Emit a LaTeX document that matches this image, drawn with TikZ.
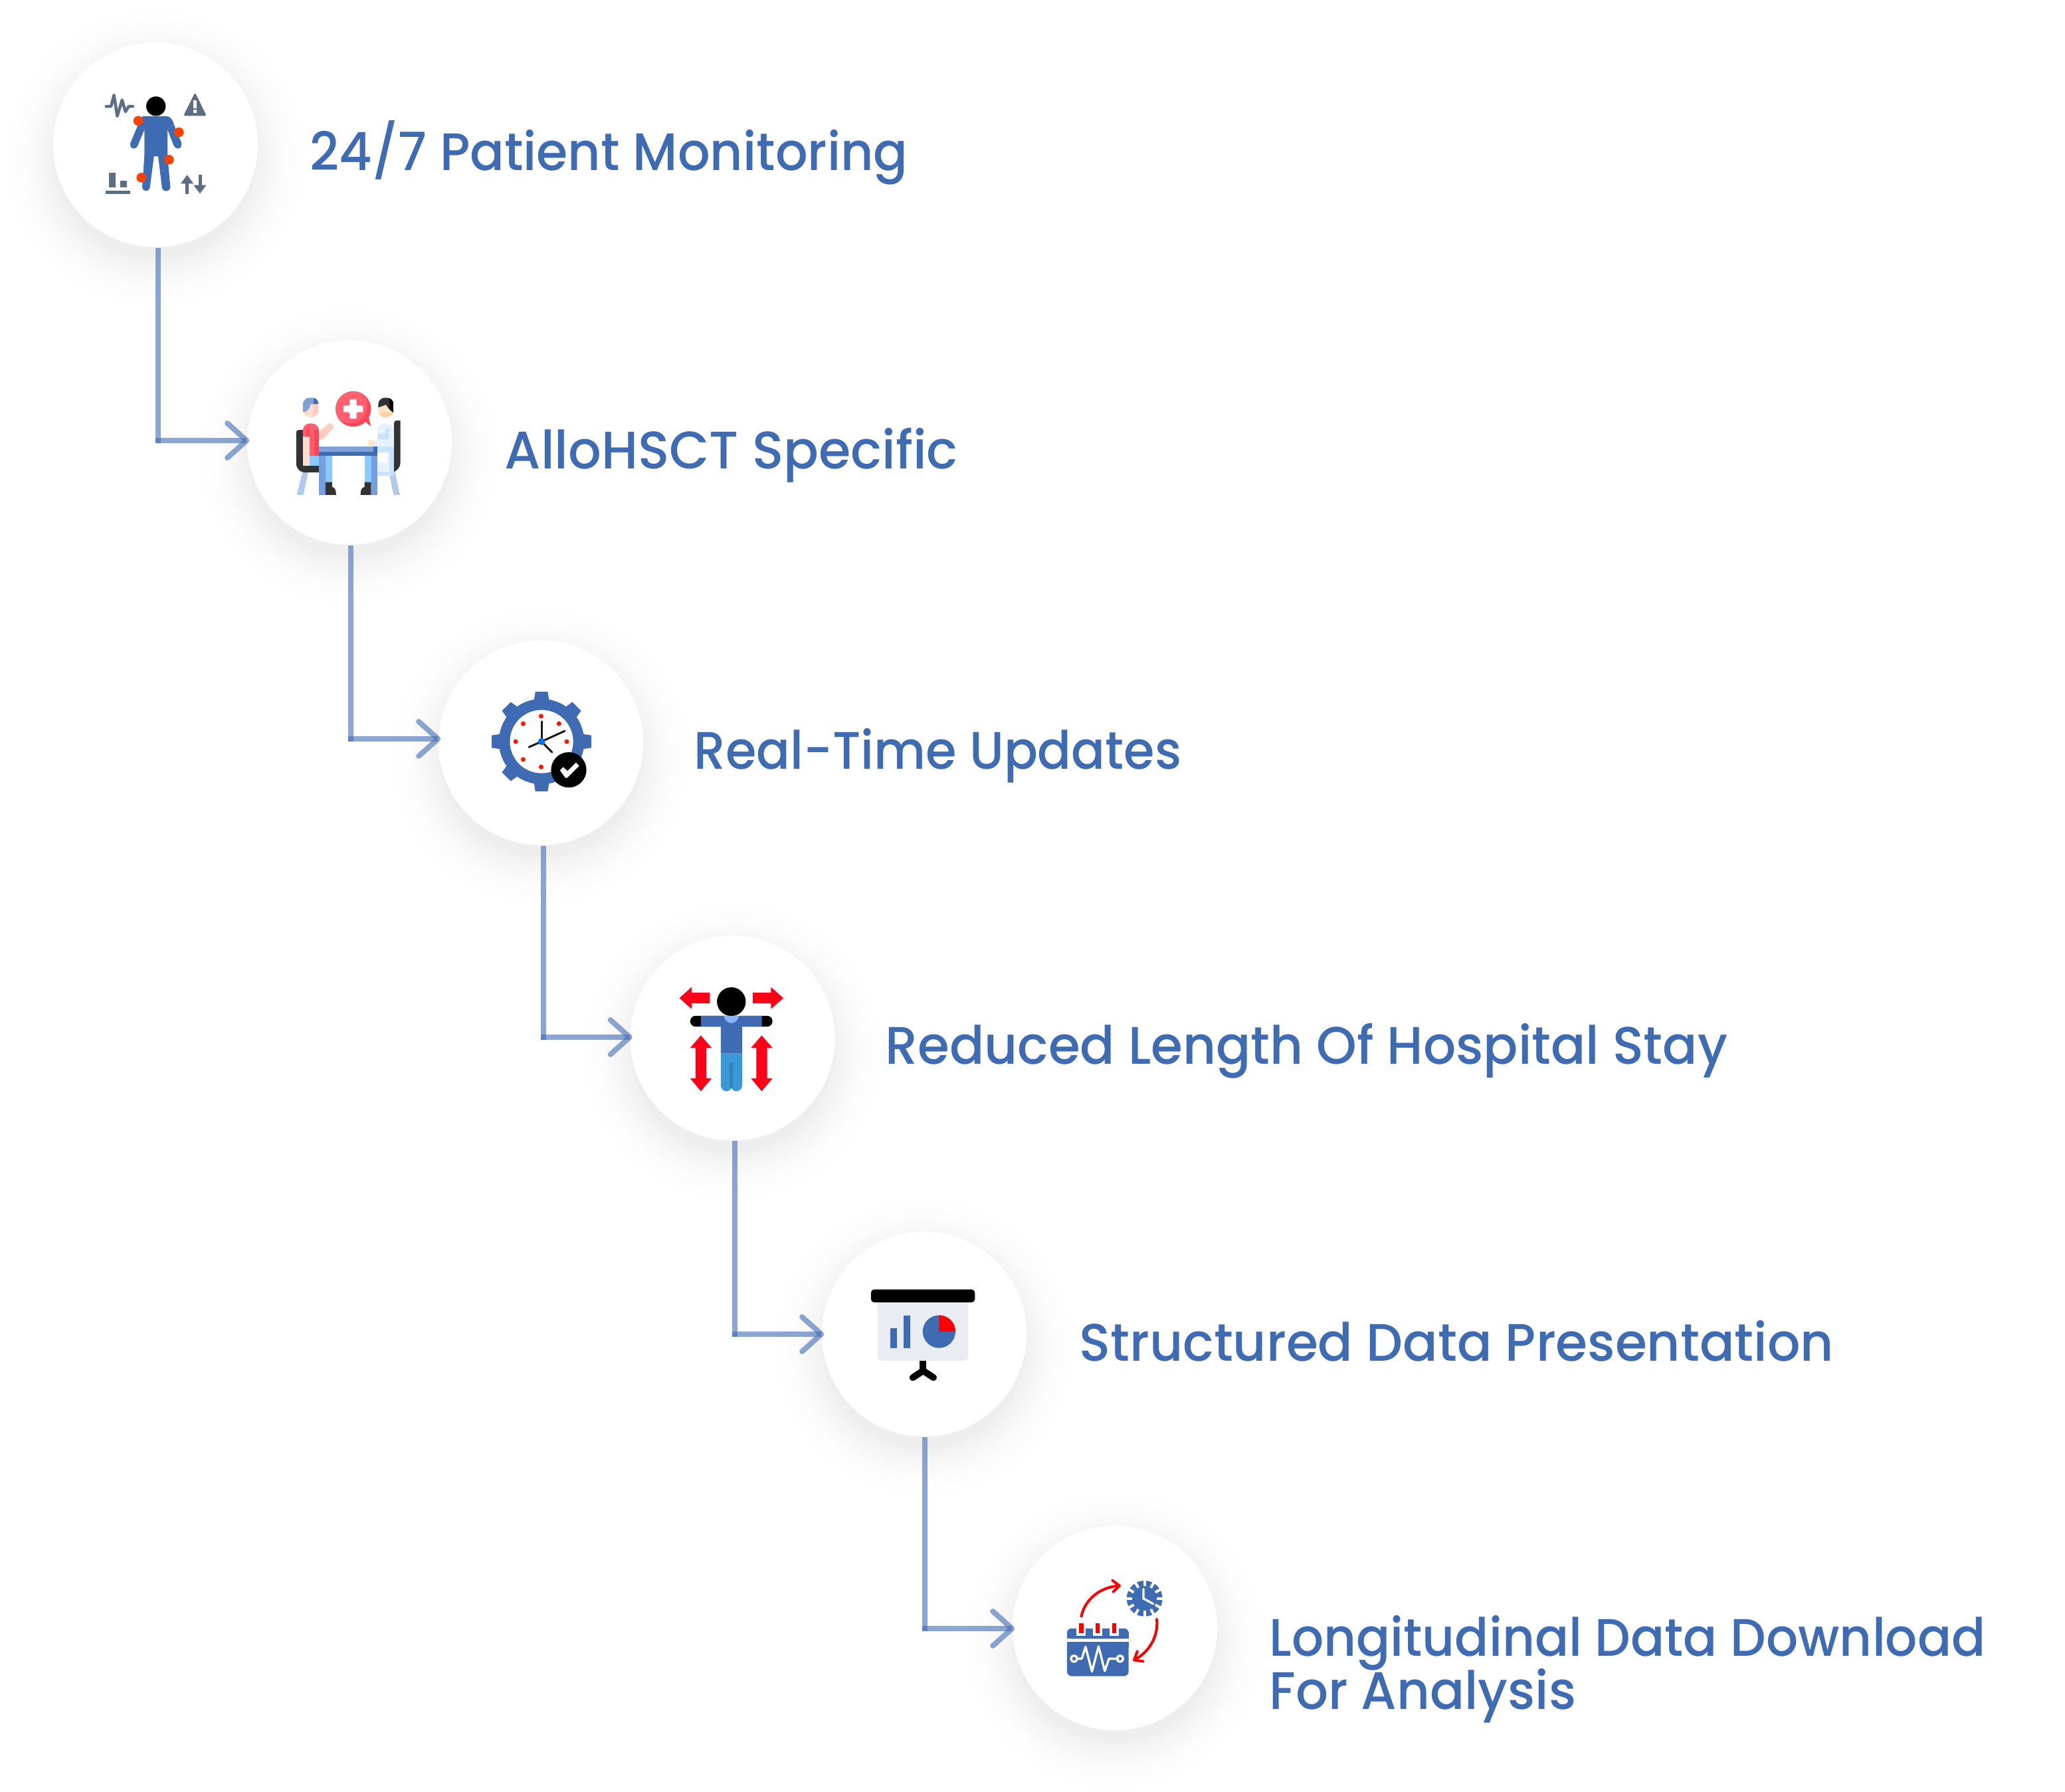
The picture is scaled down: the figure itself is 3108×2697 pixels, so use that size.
\documentclass[tikz,border=0pt]{standalone}
\usepackage{fontspec}
\setmainfont{Poppins}[UprightFont=* Medium]
\definecolor{brandblue}{HTML}{3F6BB3}
\definecolor{slate}{HTML}{5B6E86}
\definecolor{joint}{HTML}{F84200}
\definecolor{alert}{HTML}{FF0019}
\definecolor{tablight}{HTML}{7FA1D6}
\definecolor{legblue}{HTML}{8AC9FE}
\definecolor{legmid}{HTML}{739FE0}
\definecolor{chair}{HTML}{333333}
\definecolor{chairleg}{HTML}{B0CAEE}
\definecolor{pink}{HTML}{FF5F6E}
\definecolor{pinkdark}{HTML}{FF4656}
\definecolor{skin}{HTML}{FFDDCE}
\definecolor{skintwo}{HTML}{FFCEBF}
\definecolor{drskin}{HTML}{FFE5C2}
\definecolor{drskintwo}{HTML}{FED2A4}
\definecolor{coat}{HTML}{E6F3FF}
\definecolor{coattwo}{HTML}{C8E2FF}
\definecolor{screenbg}{HTML}{E9EDF1}
\definecolor{trouser}{HTML}{3B98D6}
\definecolor{troustwo}{HTML}{2F83BF}
\definecolor{collar}{HTML}{8CB4FF}
\tikzset{
  x=0.01cm,y=-0.01cm,
  disc/.style={circle,fill=white,inner sep=0pt,minimum size=3.08cm},
  steplabel/.style={anchor=base west,inner sep=0pt,text=brandblue,transform shape,font=\fontsize{22.6pt}{32pt}\selectfont},
  link/.style={draw=brandblue,draw opacity=0.6,line width=0.08cm},
  chev/.style={draw=brandblue,draw opacity=0.6,line width=0.08cm,line join=round,line cap=round},
}
% soft drop shadow under a disc: pale rings, darkening inwards
\newcommand{\softshadow}[2]{%
  \foreach \r in {234,231,...,150}{%
    \pgfmathsetmacro{\shade}{6.5*(1-(\r-150)/86)^2}%
    \fill[black!\shade!white] (#1,#2+20) circle (\r);%
  }%
}
% elbow from the foot of one disc to the rim of the next, ending in an open chevron
\newcommand{\elbowlink}[4]{%
  \coordinate (#3) at (#4);
  \coordinate (#3tip) at (#2.west |- #3);
  \draw[link] (#1.south -| #3) -- ([yshift=-0.04cm]#3);
  \draw[link] ([xshift=-0.04cm]#3) -- (#3tip);
  \draw[chev] (#3tip) +(-29,-26) -- (#3tip) -- +(-29,26);
}
\begin{document}
\begin{tikzpicture}
\useasboundingbox (0,0) rectangle (3108,2697);
\fill[white] (0,0) rectangle (3108,2697);

\softshadow{234}{218}
\softshadow{526}{666}
\softshadow{814}{1118}
\softshadow{1102.5}{1562.5}
\softshadow{1391}{2008}
\softshadow{1678}{2450}

\node[disc] (d1) at (234,218) {};
\node[disc] (d2) at (526,666) {};
\node[disc] (d3) at (814,1118) {};
\node[disc] (d4) at (1102.5,1562.5) {};
\node[disc] (d5) at (1391,2008) {};
\node[disc] (d6) at (1678,2450) {};

% stepped connectors between successive discs
\elbowlink{d1}{d2}{ka}{238,663}
\elbowlink{d2}{d3}{kb}{528,1112}
\elbowlink{d3}{d4}{kc}{818,1561}
\elbowlink{d4}{d5}{kd}{1106,2008}
\elbowlink{d5}{d6}{ke}{1392,2451}

% labels
\node[steplabel,xscale=0.961] (t1) at (466,257) {24/7 Patient Monitoring};
\node[steplabel,xscale=0.983] (t2) at (759,705) {AlloHSCT Specific};
\node[steplabel,xscale=0.945] (t3) at (1044,1157) {Real-Time Updates};
\node[steplabel,xscale=0.972] (t4) at (1332,1601) {Reduced Length Of Hospital Stay};
\node[steplabel,xscale=0.976] (t5) at (1624,2048) {Structured Data Presentation};
\node[steplabel,xscale=0.951] (t6) at (1910,2492) {Longitudinal Data Download};
\node[steplabel,xscale=0.968] (t7) at (1910,2572) {For Analysis};

% ---- patient with sensors
\begin{scope}[shift={(60,50)},x=0.00333cm,y=-0.00333cm]
  \fill[black] (525,330) circle (44);
  \fill[brandblue] (470,375) -- (570,375) .. controls (590,375) and (600,390) .. (606,412) -- (577,436) -- (577,557) -- (473,557) -- (473,436) -- (445,412) .. controls (452,390) and (460,375) .. (470,375) -- cycle;
  \fill[brandblue] (445,412) -- (473,436) -- (441,512) -- (409,498) -- cycle;
  \fill[brandblue] (425,505) circle (17);
  \fill[brandblue] (606,412) -- (577,436) -- (607,512) -- (641,498) -- cycle;
  \fill[brandblue] (624,505) circle (17);
  \fill[brandblue] (473,550) -- (516,557) -- (498,695) -- (463,695) -- cycle;
  \fill[brandblue] (480.5,695) circle (17.5);
  \fill[brandblue] (535,557) -- (577,550) -- (590,695) -- (552,695) -- cycle;
  \fill[brandblue] (571,695) circle (19);
  \foreach \p/\q in {445/396,629/448,584/572,459/653}{\fill[joint] (\p,\q) circle (22);}
  \draw[slate,line width=0.045cm,line join=round,line cap=round] (300,331) -- (322,331) -- (335,280) -- (350,375) -- (372,302) -- (387,355) -- (402,331) -- (420,331);
  \fill[slate,rounded corners=0.03cm] (702,268) -- (754,374) -- (649,374) -- cycle;
  \fill[white] (695,304) rectangle (709,340);
  \fill[white] (695,346) rectangle (709,360);
  \fill[slate] (313,631) rectangle (342,697);
  \fill[slate] (365,668) rectangle (393,697);
  \fill[slate] (298,712) rectangle (408,727);
  \fill[slate] (637,680) -- (666,641) -- (695,680) -- (673,680) -- (673,727) -- (658,727) -- (658,680) -- cycle;
  \fill[slate] (717,639) rectangle (732,687);
  \fill[slate] (695,687) -- (753,687) -- (724,725) -- cycle;
\end{scope}

% ---- consultation at a table
\begin{scope}[shift={(360,500)},x=0.00333cm,y=-0.00333cm]
  % chairs
  \fill[chairleg] (287,630) -- (313,630) -- (290,736) -- (260,736) -- cycle;
  \fill[chairleg] (678,636) -- (704,630) -- (727,736) -- (698,736) -- cycle;
  \fill[chair] (258,456) .. controls (258,446) and (262,442) .. (273,442) -- (288,442) -- (288,590) .. controls (288,600) and (292,604) .. (302,604) -- (362,604) -- (362,634) -- (300,634) .. controls (275,634) and (258,617) .. (258,592) -- cycle;
  \fill[chair] (700,414) .. controls (700,404) and (706,399) .. (716,399) -- (729,399) -- (729,590) .. controls (729,610) and (715,625) .. (700,632) -- cycle;
  % patient
  \fill[skintwo,rounded corners=0.03cm] (360,450) -- (412,408) -- (431,428) -- (378,486) -- (360,486) -- cycle;
  \begin{scope}
    \clip[rounded corners=0.1cm] (288,296) rectangle (359,384);
    \fill[skin] (288,296) rectangle (359,384);
    \fill[skintwo] (338,296) rectangle (359,384);
    \fill[tablight] (288,296) -- (359,296) -- (359,326) -- (322,326) .. controls (322,345) and (305,362) .. (288,362) -- cycle;
    \fill[brandblue] (338,296) rectangle (359,326);
  \end{scope}
  \fill[pink] (288,560) {[rounded corners=0.1cm] -- (288,413) -- (360,413)} -- (360,560) -- cycle;
  \fill[pinkdark] (340,440) rectangle (360,560);
  \fill[pinkdark] (303,435) rectangle (317,472);
  \fill[skin] (288,472) rectangle (317,604);
  \fill[legblue] (317,560) rectangle (362,604);
  % table and doctor's side
  \fill[legmid] (361,560) rectangle (390,736);
  \fill[legblue] (390,560) rectangle (420,678);
  \fill[legblue] (567,560) rectangle (597,678);
  \fill[legmid] (597,560) rectangle (626,736);
  \fill[chair] (390,678) -- (420,678) -- (420,700) .. controls (430,702) and (438,710) .. (438,730) -- (438,736) -- (390,736) -- cycle;
  \fill[chair] (597,678) -- (567,678) -- (567,700) .. controls (557,702) and (549,710) .. (549,730) -- (549,736) -- (597,736) -- cycle;
  % doctor
  \fill[coattwo] (626,517) -- (700,517) -- (700,648) -- (626,648) -- cycle;
  \fill[coat] (626,544) rectangle (680,630);
  \fill[white] (626,544) rectangle (669,590);
  \fill[coat] (626,517) {[rounded corners=0.1cm] -- (626,413) -- (699,413)} -- (699,517) -- cycle;
  \fill[coattwo] (626,460) -- (662,460) -- (662,436) -- (678,436) -- (678,484) -- (626,484) -- cycle;
  \fill[coat] (606,489) rectangle (680,517);
  \fill[drskin,rounded corners=0.03cm] (582,488) rectangle (612,516);
  \begin{scope}
    \clip[rounded corners=0.1cm] (629,296) rectangle (698,384);
    \fill[drskin] (629,296) rectangle (698,384);
    \fill[drskintwo] (629,364) rectangle (698,384);
    \fill[chair] (629,340) -- (629,296) -- (698,296) -- (698,364) .. controls (680,355) and (665,330) .. (664,328) .. controls (655,330) and (640,338) .. (629,340) -- cycle;
    \fill[black] (680,296) -- (698,296) -- (698,364) .. controls (690,358) and (684,352) .. (680,346) -- cycle;
  \end{scope}
  % table top
  \fill[tablight] (361,517) rectangle (626,541);
  \fill[brandblue] (361,541) rectangle (626,560);
  \fill[brandblue] (606,517) rectangle (626,541);
  % speech bubble with a cross
  \fill[pinkdark] (516,347) circle (80);
  \fill[pinkdark] (565,400) -- (585,380) -- (595,426) -- cycle;
  \begin{scope}
    \clip (516,347) circle (80);
    \fill[pink] (500,331) circle (80);
  \end{scope}
  \fill[white,rounded corners=0.012cm] (500,303) -- (531,303) -- (531,332) -- (560,332) -- (560,362) -- (531,362) -- (531,391) -- (500,391) -- (500,362) -- (471,362) -- (471,332) -- (500,332) -- cycle;
\end{scope}

% ---- clock inside a gear
\begin{scope}[shift={(650,950)},x=0.00333cm,y=-0.00333cm]
  \foreach \a in {0,45,...,315}{
    \begin{scope}[shift={(496,499)},rotate=\a]
      \fill[brandblue] (-36,-175) -- (-28,-225) -- (28,-225) -- (36,-175) -- cycle;
    \end{scope}
  }
  \fill[brandblue] (496,499) circle (193);
  \fill[white] (496,499) circle (143);
  \foreach \p/\q in {494/384,575/418,610/499,494/614,413/580,379/499,413/418}{\fill[red!85!orange] (\p,\q) circle (10.5);}
  \draw[black!90,line width=0.03cm,line cap=round] (496,499) -- (496,408);
  \draw[black!90,line width=0.03cm,line cap=round] (496,499) -- (601,451);
  \draw[black!90,line width=0.03cm,line cap=round] (496,499) -- (439,524);
  \draw[black!90,line width=0.03cm,line cap=round] (496,499) -- (544,548);
  \fill[blue!50!cyan!90!black] (496,499) circle (16);
  \fill[black] (619,627) circle (80);
  \fill[white] (579,629) -- (594,614) -- (613,632) -- (652,594) -- (666,609) -- (612,663) -- (604,663) -- cycle;
\end{scope}

% ---- person with outstretched arms and direction arrows
\begin{scope}[shift={(940,1400)},x=0.00333cm,y=-0.00333cm]
  \fill[black] (483,323) circle (65);
  \fill[black,rounded corners=0.08cm] (297,387) rectangle (669,436);
  \fill[brandblue] (345,387) -- (621,387) -- (621,436) -- (532,436) -- (532,558) -- (435,558) -- (435,436) -- (345,436) -- cycle;
  \fill[collar] (450,387) -- (516,387) .. controls (514,412) and (494,420) .. (483,420) .. controls (472,420) and (452,412) .. (450,387) -- cycle;
  \fill[trouser] (435,558) -- (532,558) -- (532,700) .. controls (532,735) and (483,738) .. (483,705) .. controls (483,738) and (435,735) .. (435,700) -- cycle;
  \draw[troustwo,line width=0.05cm,line cap=round] (483,605) -- (483,708);
  \fill[alert] (248,307) -- (303,257) -- (303,282) -- (386,282) -- (386,331) -- (303,331) -- (303,356) -- cycle;
  \fill[alert] (718,307) -- (662,257) -- (662,282) -- (580,282) -- (580,331) -- (662,331) -- (662,356) -- cycle;
  \fill[alert] (345,476) -- (394,532) -- (370,532) -- (370,670) -- (394,670) -- (345,728) -- (297,670) -- (321,670) -- (321,532) -- (297,532) -- cycle;
  \fill[alert] (620,476) -- (669,532) -- (645,532) -- (645,670) -- (669,670) -- (620,728) -- (572,670) -- (596,670) -- (596,532) -- (572,532) -- cycle;
\end{scope}

% ---- projection screen with charts
\begin{scope}[shift={(1230,1850)},x=0.00333cm,y=-0.00333cm]
  \fill[screenbg,rounded corners=0.07cm] (273,320) rectangle (684,595);
  \fill[black,rounded corners=0.05cm] (243,272) rectangle (713,331);
  \fill[brandblue] (331,449) rectangle (360,537);
  \fill[brandblue] (390,390) rectangle (420,537);
  \fill[brandblue] (551,463) circle (74);
  \fill[red] (551,463) -- (551,389) arc[start angle=-90,end angle=0,radius=74] -- cycle;
  \fill[black] (464,595) rectangle (494,640);
  \draw[black,line width=0.1cm,line cap=round,line join=round] (432,671) -- (479,640) -- (526,671);
\end{scope}

% ---- calendar trace with clock and cycle arrows
\begin{scope}[shift={(1520,2290)},x=0.00333cm,y=-0.00333cm]
  \fill[brandblue,rounded corners=0.07cm] (258,544) -- (537,544) -- (537,699) -- (258,699) -- cycle;
  \fill[brandblue,rounded corners=0.07cm] (258,530) -- (258,483) -- (537,483) -- (537,530) -- cycle;
  \fill[brandblue] (258,544) rectangle (537,570);
  \fill[brandblue] (258,500) rectangle (537,530);
  \fill[white] (300,470) rectangle (344,516);
  \fill[white] (375,470) rectangle (419,516);
  \fill[white] (450,470) rectangle (494,516);
  \fill[red] (312,459) rectangle (332,505);
  \fill[red] (387,459) rectangle (407,505);
  \fill[red] (462,459) rectangle (482,505);
  \draw[white,line width=0.033cm,line join=round,line cap=round] (305,620) -- (325,620) -- (342,566) -- (371,678) -- (401,564) -- (429,676) -- (448,620) -- (490,620);
  \draw[white,line width=0.033cm] (290,620) circle (14);
  \draw[white,line width=0.033cm] (498,620) circle (14);
  \fill[brandblue] (609,348) circle (81);
  \foreach \a in {0,30,...,330}{
    \begin{scope}[shift={(609,348)},rotate=\a]
      \fill[white] (-6,-83) rectangle (6,-56);
    \end{scope}
  }
  \draw[white,line width=0.033cm,line cap=round] (604,304) -- (604,348) -- (648,372);
  \draw[red,line width=0.04cm,line cap=round,line join=round] (323,428) .. controls (340,350) and (410,295) .. (495,290);
  \draw[red,line width=0.04cm,line cap=round,line join=round] (464,266) -- (495,290) -- (468,317);
  \draw[red,line width=0.04cm,line cap=round,line join=round] (664,442) .. controls (672,520) and (630,590) .. (562,626);
  \draw[red,line width=0.04cm,line cap=round,line join=round] (576,587) -- (562,626) -- (602,632);
\end{scope}
\end{tikzpicture}
\end{document}
